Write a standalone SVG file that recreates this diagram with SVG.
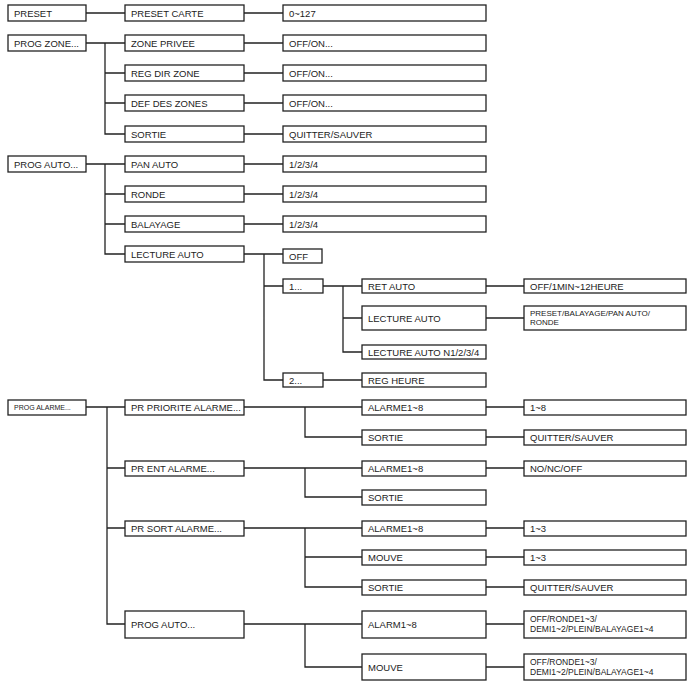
<svg xmlns="http://www.w3.org/2000/svg" width="687" height="682" viewBox="0 0 687 682">
<style>
rect{fill:#fff;stroke:#222;stroke-width:1.3}
text{font-family:"Liberation Sans",Arial,sans-serif;font-size:9.5px;fill:#222}
.s{font-size:7px}
#c path{fill:none;stroke:#222;stroke-width:1.3}
</style>
<rect x="0" y="0" width="687" height="682" style="stroke:none"/>
<g id="c"><path d="M86 13H125M244 13H283
M86 43H125M105 43V134H125M105 73H125M105 103H125M244 43H283M244 73H283M244 103H283M244 134H283
M86 164H125M105 164V254H125M105 194H125M105 224H125M244 164H283M244 194H283M244 224H283
M244 254H283M264 254V380H283M264 286H283M323 286H362M343 286V352H362M343 318H362M486 286H524M486 318H524M323 380H362
M86 407H125M107 407V624H125M107 468H125M107 528H125
M244 407H362M305 407V437H362M486 407H524M486 437H524
M244 468H362M305 468V497H362M486 468H524
M244 528H362M305 528V587H362M305 557H362M486 528H524M486 557H524M486 587H524
M244 624H362M305 624V667H362M486 624H524M486 667H524"/></g>
<g id="n1"><rect x="8" y="5" width="78" height="16"/><text x="14" y="16.5">PRESET</text></g>
<g id="n2"><rect x="125" y="5" width="119" height="16"/><text x="131" y="16.5">PRESET CARTE</text></g>
<g id="n3"><rect x="283" y="5" width="203" height="16"/><text x="289" y="16.5">0~127</text></g>
<g id="n4"><rect x="8" y="35" width="78" height="16"/><text x="14" y="46.5">PROG ZONE...</text></g>
<g id="n5"><rect x="125" y="35" width="119" height="16"/><text x="131" y="46.5">ZONE PRIVEE</text></g>
<g id="n6"><rect x="283" y="35" width="203" height="16"/><text x="289" y="46.5">OFF/ON...</text></g>
<g id="n7"><rect x="125" y="65" width="119" height="16"/><text x="131" y="76.5">REG DIR ZONE</text></g>
<g id="n8"><rect x="283" y="65" width="203" height="16"/><text x="289" y="76.5">OFF/ON...</text></g>
<g id="n9"><rect x="125" y="95" width="119" height="16"/><text x="131" y="106.5">DEF DES ZONES</text></g>
<g id="n10"><rect x="283" y="95" width="203" height="16"/><text x="289" y="106.5">OFF/ON...</text></g>
<g id="n11"><rect x="125" y="126" width="119" height="16"/><text x="131" y="137.5">SORTIE</text></g>
<g id="n12"><rect x="283" y="126" width="203" height="16"/><text x="289" y="137.5">QUITTER/SAUVER</text></g>
<g id="n13"><rect x="8" y="156" width="78" height="16"/><text x="14" y="167.5">PROG AUTO...</text></g>
<g id="n14"><rect x="125" y="156" width="119" height="16"/><text x="131" y="167.5">PAN AUTO</text></g>
<g id="n15"><rect x="283" y="156" width="203" height="16"/><text x="289" y="167.5">1/2/3/4</text></g>
<g id="n16"><rect x="125" y="186" width="119" height="16"/><text x="131" y="197.5">RONDE</text></g>
<g id="n17"><rect x="283" y="186" width="203" height="16"/><text x="289" y="197.5">1/2/3/4</text></g>
<g id="n18"><rect x="125" y="216" width="119" height="16"/><text x="131" y="227.5">BALAYAGE</text></g>
<g id="n19"><rect x="283" y="216" width="203" height="16"/><text x="289" y="227.5">1/2/3/4</text></g>
<g id="n20"><rect x="125" y="246" width="119" height="16"/><text x="131" y="257.5">LECTURE AUTO</text></g>
<g id="n21"><rect x="283" y="249" width="39" height="14"/><text x="289" y="259.5">OFF</text></g>
<g id="n22"><rect x="283" y="279" width="40" height="14"/><text x="289" y="289.5">1...</text></g>
<g id="n23"><rect x="362" y="279" width="124" height="14"/><text x="368" y="289.5">RET AUTO</text></g>
<g id="n24"><rect x="524" y="279" width="162" height="14"/><text x="530" y="289.5">OFF/1MIN~12HEURE</text></g>
<g id="n25"><rect x="362" y="306" width="124" height="24"/><text x="368" y="321.5">LECTURE AUTO</text></g>
<g id="n26"><rect x="524" y="306" width="162" height="24"/><text x="530" y="316" style="font-size:8px">PRESET/BALAYAGE/PAN AUTO/</text><text x="530" y="325" style="font-size:8px">RONDE</text></g>
<g id="n27"><rect x="362" y="345" width="124" height="14"/><text x="368" y="355.5">LECTURE AUTO N1/2/3/4</text></g>
<g id="n28"><rect x="283" y="373" width="40" height="14"/><text x="289" y="383.5">2...</text></g>
<g id="n29"><rect x="362" y="373" width="124" height="14"/><text x="368" y="383.5">REG HEURE</text></g>
<g id="n30"><rect x="8" y="400" width="78" height="15"/><text class="s" x="14" y="410">PROG ALARME...</text></g>
<g id="n31"><rect x="125" y="400" width="119" height="15"/><text x="131" y="411">PR PRIORITE ALARME...</text></g>
<g id="n32"><rect x="362" y="400" width="124" height="15"/><text x="368" y="411">ALARME1~8</text></g>
<g id="n33"><rect x="524" y="400" width="162" height="15"/><text x="530" y="411">1~8</text></g>
<g id="n34"><rect x="362" y="430" width="124" height="15"/><text x="368" y="441">SORTIE</text></g>
<g id="n35"><rect x="524" y="430" width="162" height="15"/><text x="530" y="441">QUITTER/SAUVER</text></g>
<g id="n36"><rect x="125" y="461" width="119" height="15"/><text x="131" y="472">PR ENT ALARME...</text></g>
<g id="n37"><rect x="362" y="461" width="124" height="15"/><text x="368" y="472">ALARME1~8</text></g>
<g id="n38"><rect x="524" y="461" width="162" height="15"/><text x="530" y="472">NO/NC/OFF</text></g>
<g id="n39"><rect x="362" y="490" width="124" height="15"/><text x="368" y="501">SORTIE</text></g>
<g id="n40"><rect x="125" y="521" width="119" height="15"/><text x="131" y="532">PR SORT ALARME...</text></g>
<g id="n41"><rect x="362" y="521" width="124" height="15"/><text x="368" y="532">ALARME1~8</text></g>
<g id="n42"><rect x="524" y="521" width="162" height="15"/><text x="530" y="532">1~3</text></g>
<g id="n43"><rect x="362" y="550" width="124" height="15"/><text x="368" y="561">MOUVE</text></g>
<g id="n44"><rect x="524" y="550" width="162" height="15"/><text x="530" y="561">1~3</text></g>
<g id="n45"><rect x="362" y="580" width="124" height="15"/><text x="368" y="591">SORTIE</text></g>
<g id="n46"><rect x="524" y="580" width="162" height="15"/><text x="530" y="591">QUITTER/SAUVER</text></g>
<g id="n47"><rect x="125" y="611" width="119" height="27"/><text x="131" y="628">PROG AUTO...</text></g>
<g id="n48"><rect x="362" y="611" width="124" height="27"/><text x="368" y="628">ALARM1~8</text></g>
<g id="n49"><rect x="524" y="611" width="162" height="27"/><text x="530" y="622" style="font-size:8.5px">OFF/RONDE1~3/</text><text x="530" y="632" style="font-size:8.5px">DEMI1~2/PLEIN/BALAYAGE1~4</text></g>
<g id="n50"><rect x="362" y="654" width="124" height="26"/><text x="368" y="671">MOUVE</text></g>
<g id="n51"><rect x="524" y="654" width="162" height="26"/><text x="530" y="665" style="font-size:8.5px">OFF/RONDE1~3/</text><text x="530" y="675" style="font-size:8.5px">DEMI1~2/PLEIN/BALAYAGE1~4</text></g>
</svg>
